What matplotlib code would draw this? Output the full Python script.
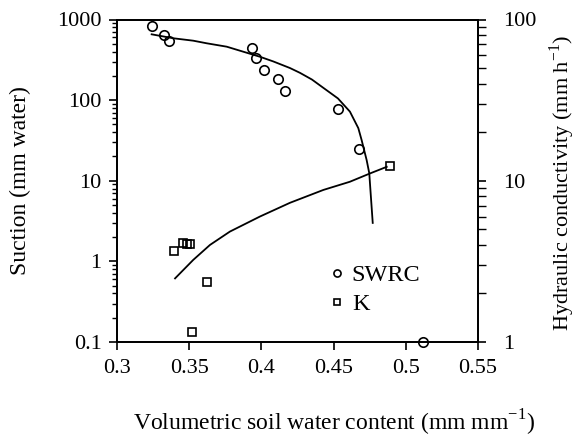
import matplotlib
matplotlib.use("Agg")
import matplotlib.pyplot as plt
from matplotlib.ticker import NullFormatter, LogLocator

plt.rcParams['font.family'] = ['Liberation Serif', 'DejaVu Serif']
plt.rcParams['mathtext.fontset'] = 'custom'
plt.rcParams['mathtext.rm'] = 'Liberation Serif'

# measured soil water retention points (suction, mm water)
swrc_theta = [0.3245, 0.3325, 0.3362, 0.3937, 0.396, 0.4017, 0.4113, 0.4163, 0.4532, 0.4676, 0.512]
swrc_suction = [830, 650, 541, 447, 330, 236, 184, 130, 77, 24.7, 0.1]

# measured hydraulic conductivity points (mm/h)
k_theta = [0.3394, 0.346, 0.3483, 0.3506, 0.3621, 0.3516, 0.489]
k_cond = [3.68, 4.09, 4.05, 4.03, 2.37, 1.16, 12.3]

# fitted curves
fit_swrc_theta = [0.3240, 0.3390, 0.3528, 0.3621, 0.3760, 0.3852, 0.3990, 0.4082, 0.4198,
                  0.4267, 0.4350, 0.4429, 0.4530, 0.4613, 0.4671, 0.4694, 0.4729, 0.4747,
                  0.4755, 0.4771]
fit_swrc_suction = [655, 585, 546, 507, 460, 410, 345, 302, 250,
                    218, 180, 142, 105, 72, 45, 32, 18, 12.4,
                    7.7, 3.0]

fit_k_theta = [0.3402, 0.3528, 0.3644, 0.3782, 0.3990, 0.4198, 0.4429, 0.4613, 0.4752, 0.4868]
fit_k_cond = [2.48, 3.23, 4.0, 4.84, 6.0, 7.3, 8.77, 9.86, 11.1, 12.2]

x_ticks = [0.3, 0.35, 0.4, 0.45, 0.5, 0.55]
x_labels = ['0.3', '0.35', '0.4', '0.45', '0.5', '0.55']
left_ticks = [0.1, 1, 10, 100, 1000]
left_labels = ['0.1', '1', '10', '100', '1000']
right_ticks = [1, 10, 100]
right_labels = ['1', '10', '100']

fig = plt.figure(figsize=(5.77, 4.47), dpi=100)
ax = fig.add_axes([117/577, 1-342/447, (478-117)/577, (342-19.5)/447])
ax2 = ax.twinx()

lw = 1.3
ax.plot(fit_swrc_theta, fit_swrc_suction, color='black', lw=lw)
h1, = ax.plot(swrc_theta, swrc_suction, 'o', mfc='none', mec='black', mew=1.2, ms=6.8,
              clip_on=False, label='SWRC')
ax2.plot(fit_k_theta, fit_k_cond, color='black', lw=lw)
h2, = ax2.plot(k_theta, k_cond, 's', mfc='none', mec='black', mew=1.2, ms=5.8,
               clip_on=False, label='K')

ax.set_xlim(0.3, 0.55)
ax.set_yscale('log')
ax.set_ylim(0.1, 1000)
ax2.set_yscale('log')
ax2.set_ylim(1, 100)

ax.set_xticks(x_ticks)
ax.set_xticklabels(x_labels)
ax.set_yticks(left_ticks)
ax.set_yticklabels(left_labels)
ax.yaxis.set_minor_locator(LogLocator(base=10, subs=range(2, 10)))
ax.yaxis.set_minor_formatter(NullFormatter())
ax2.set_yticks(right_ticks)
ax2.set_yticklabels(right_labels)
ax2.yaxis.set_minor_locator(LogLocator(base=10, subs=range(2, 10)))
ax2.yaxis.set_minor_formatter(NullFormatter())

ax.tick_params(axis='x', direction='out', length=6, width=1.2, pad=6, labelsize=16)
ax.tick_params(axis='y', which='major', direction='out', length=6, width=1.2, pad=5, labelsize=16)
ax.tick_params(axis='y', which='minor', direction='out', length=3.5, width=1.0)
ax2.tick_params(axis='y', which='major', direction='out', length=6, width=1.2, pad=12, labelsize=16)
ax2.tick_params(axis='y', which='minor', direction='out', length=6, width=1.0)

for a in (ax, ax2):
    for s in a.spines.values():
        s.set_linewidth(1.3)

fig.text(20/577, 1-181/447, 'Suction (mm water)', fontsize=17, rotation=90,
         ha='center', va='center')
fig.text(562/577, 1-183/447, 'Hydraulic conductivity (mm h$^{-1}$)', fontsize=16,
         rotation=90, ha='center', va='center')
fig.text(334/577, 1-423/447, 'Volumetric soil water content (mm mm$^{-1}$)', fontsize=17,
         ha='center', va='center')

leg = fig.legend([h1, h2], ['SWRC', 'K'], loc='upper left',
                 bbox_to_anchor=(330/577, 1-264/447), frameon=False, fontsize=17.5,
                 markerscale=0.75, handlelength=0.6, handletextpad=0.3,
                 labelspacing=0.3, borderpad=0, borderaxespad=0)

fig.savefig('out.png', dpi=100)
